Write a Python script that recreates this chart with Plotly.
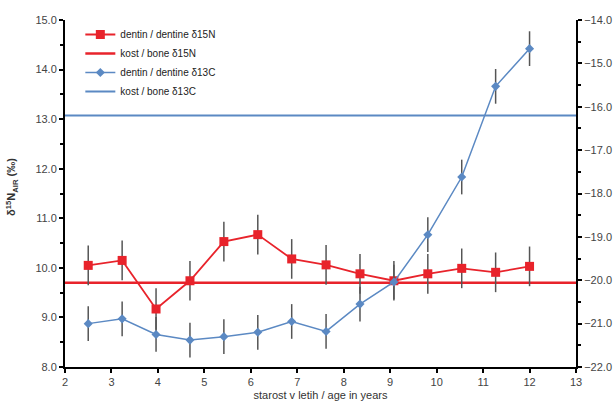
import plotly.graph_objects as go

# Data
age = [2.5, 3.23, 3.96, 4.69, 5.42, 6.15, 6.88, 7.62, 8.35, 9.08, 9.81, 10.54, 11.27, 12.0]
dentin_d15N = [10.05, 10.15, 9.17, 9.74, 10.53, 10.67, 10.18, 10.06, 9.88, 9.74, 9.88, 9.99, 9.91, 10.03]
dentin_d15N_err = [0.4, 0.4, 0.42, 0.4, 0.4, 0.4, 0.4, 0.4, 0.4, 0.4, 0.4, 0.4, 0.4, 0.4]
dentin_d13C = [-21.0, -20.89, -21.25, -21.38, -21.30, -21.2, -20.95, -21.18, -20.55, -20.04, -18.95, -17.62, -15.53, -14.66]
dentin_d13C_err = [0.4, 0.4, 0.4, 0.4, 0.4, 0.4, 0.4, 0.4, 0.4, 0.4, 0.4, 0.4, 0.4, 0.4]
bone_d15N = 9.70
bone_d13C = -16.2
x_range = [2, 13]

RED = "#e8232b"
BLUE = "#5b89c3"
ERR = "#555555"
FONT = "Liberation Sans, Arial, sans-serif"

fig = go.Figure()

fig.add_trace(go.Scatter(
    x=x_range, y=[bone_d15N, bone_d15N], mode="lines",
    line=dict(color=RED, width=2.5), name="kost / bone δ15N", legendrank=2))
fig.add_trace(go.Scatter(
    x=x_range, y=[bone_d13C, bone_d13C], mode="lines", yaxis="y2",
    line=dict(color=BLUE, width=2), name="kost / bone δ13C", legendrank=4))

fig.add_trace(go.Scatter(
    x=age, y=dentin_d13C, mode="lines+markers", yaxis="y2",
    line=dict(color=BLUE, width=1.5),
    marker=dict(symbol="diamond", size=7, color=BLUE),
    error_y=dict(type="data", array=dentin_d13C_err, color=ERR, thickness=1.5, width=0),
    name="dentin / dentine δ13C", legendrank=3))
fig.add_trace(go.Scatter(
    x=age, y=dentin_d15N, mode="lines+markers",
    line=dict(color=RED, width=1.8),
    marker=dict(symbol="square", size=9, color=RED),
    error_y=dict(type="data", array=dentin_d15N_err, color=ERR, thickness=1.5, width=0),
    name="dentin / dentine δ15N", legendrank=1))

axis_common = dict(
    showgrid=False, zeroline=False, showline=True, linecolor="black", linewidth=2,
    ticks="outside", ticklen=4, tickwidth=2, tickcolor="black", automargin=False,
    tickfont=dict(family=FONT, size=11, color="#444444"),
)

fig.update_layout(
    width=614, height=405,
    margin=dict(l=65, r=38, t=20, b=38),
    paper_bgcolor="white", plot_bgcolor="white",
    font=dict(family=FONT, color="#333333"),
    xaxis=dict(range=x_range, dtick=1, tick0=2,
               title=dict(text="starost v letih / age in years", font=dict(family=FONT, size=11, color="#333333"), standoff=4),
               **axis_common),
    yaxis=dict(range=[8, 15], dtick=1, tickformat=".1f",
               minor=dict(dtick=0.5, ticks="outside", ticklen=3, tickcolor="black", tickwidth=2),
               **axis_common),
    yaxis2=dict(range=[-22, -14], dtick=1, tickformat=".1f", overlaying="y", side="right",
                minor=dict(dtick=0.5, ticks="outside", ticklen=3, tickcolor="black", tickwidth=2),
                **axis_common),
    legend=dict(x=0.03, y=1.0, xanchor="left", yanchor="top", bgcolor="rgba(0,0,0,0)",
                font=dict(family=FONT, size=10, color="#222222"), tracegroupgap=0, itemwidth=30),
    showlegend=True,
)

fig.add_annotation(
    xref="paper", yref="paper", x=-0.105, y=0.52,
    text="<b>δ<sup>15</sup>N<sub>AIR</sub> (‰)</b>", textangle=-90, showarrow=False,
    font=dict(family=FONT, size=11, color="#333333"), xanchor="center", yanchor="middle")

fig.write_html("out.html")
